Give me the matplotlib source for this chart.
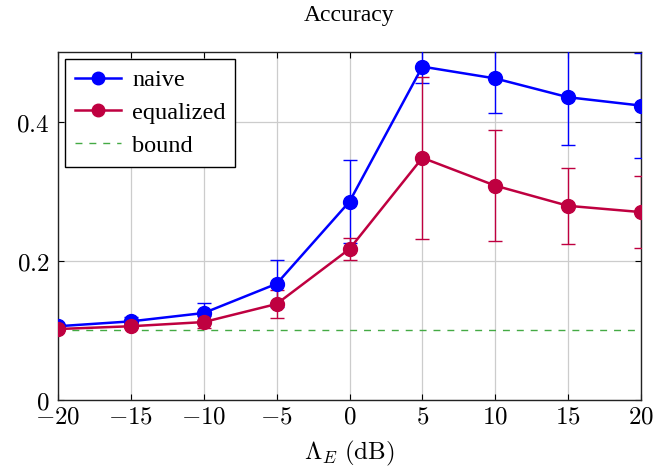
import matplotlib
matplotlib.use("Agg")
import matplotlib.pyplot as plt
from matplotlib.lines import Line2D

x_vals = [-20, -15, -10, -5, 0, 5, 10, 15, 20]
naive = [0.106, 0.113, 0.125, 0.167, 0.285, 0.479, 0.462, 0.435, 0.423]
naive_err = [0.003, 0.006, 0.015, 0.034, 0.060, 0.024, 0.049, 0.068, 0.076]
equalized = [0.102, 0.106, 0.112, 0.138, 0.217, 0.348, 0.308, 0.279, 0.270]
equalized_err = [0.002, 0.003, 0.008, 0.020, 0.016, 0.116, 0.080, 0.055, 0.052]
bound = 0.1
x_ticks = [-20, -15, -10, -5, 0, 5, 10, 15, 20]
y_ticks = [0, 0.2, 0.4]

plt.rcParams['mathtext.fontset'] = 'cm'

blue = '#0000ff'
red = '#bf0040'
green = '#44aa44'

fig = plt.figure(figsize=(6.7, 4.71), dpi=100)
ax = fig.add_axes([0.0866, 0.1507, 0.8701, 0.7389])

ax.errorbar(x_vals, naive, yerr=naive_err, color=blue, marker='o', markersize=10,
            linewidth=1.8, elinewidth=1.0, capsize=5, capthick=1.0, zorder=3)
ax.errorbar(x_vals, equalized, yerr=equalized_err, color=red, marker='o', markersize=10,
            linewidth=1.8, elinewidth=1.0, capsize=5, capthick=1.0, zorder=3)
ax.plot([x_vals[0], x_vals[-1]], [bound, bound], color=green, linestyle=(0, (5, 5)),
        linewidth=1.0, zorder=2)

ax.set_xlim(-20, 20)
ax.set_ylim(0, 0.5)
ax.set_xticks(x_ticks)
ax.set_yticks(y_ticks)
ax.set_xticklabels([f'${v}$' if v >= 0 else f'$-{abs(v)}$' for v in x_ticks], fontsize=18)
ax.set_yticklabels(['$0$', '$0.2$', '$0.4$'], fontsize=18)
ax.tick_params(axis='x', direction='in', top=True, length=4, width=0.8, pad=3)
ax.tick_params(axis='y', direction='in', right=True, length=4, width=0.8, pad=6)
ax.grid(True, color='#cccccc', linewidth=0.9)
ax.set_axisbelow(True)
for s in ax.spines.values():
    s.set_linewidth(1.0)
    s.set_color('#222222')

ax.set_xlabel(r'$\Lambda_E\ \mathrm{(dB)}$', fontsize=18, labelpad=8)
ax.set_title('Accuracy', fontsize=17, family='Liberation Serif', pad=22)

handles = [
    Line2D([], [], color=blue, marker='o', markersize=9, linewidth=1.8),
    Line2D([], [], color=red, marker='o', markersize=9, linewidth=1.8),
    Line2D([], [], color=green, linestyle=(0, (5, 5)), linewidth=1.0),
]
leg = ax.legend(handles, ['naive', 'equalized', 'bound'], loc='upper left',
                prop={'family': 'Liberation Serif', 'size': 17.5},
                frameon=True, fancybox=False, edgecolor='black', framealpha=1,
                borderaxespad=0.3, handlelength=1.9, labelspacing=0.45, borderpad=0.4,
                handletextpad=0.45)
leg.get_frame().set_linewidth(1.0)

fig.savefig('out.png', dpi=100)
